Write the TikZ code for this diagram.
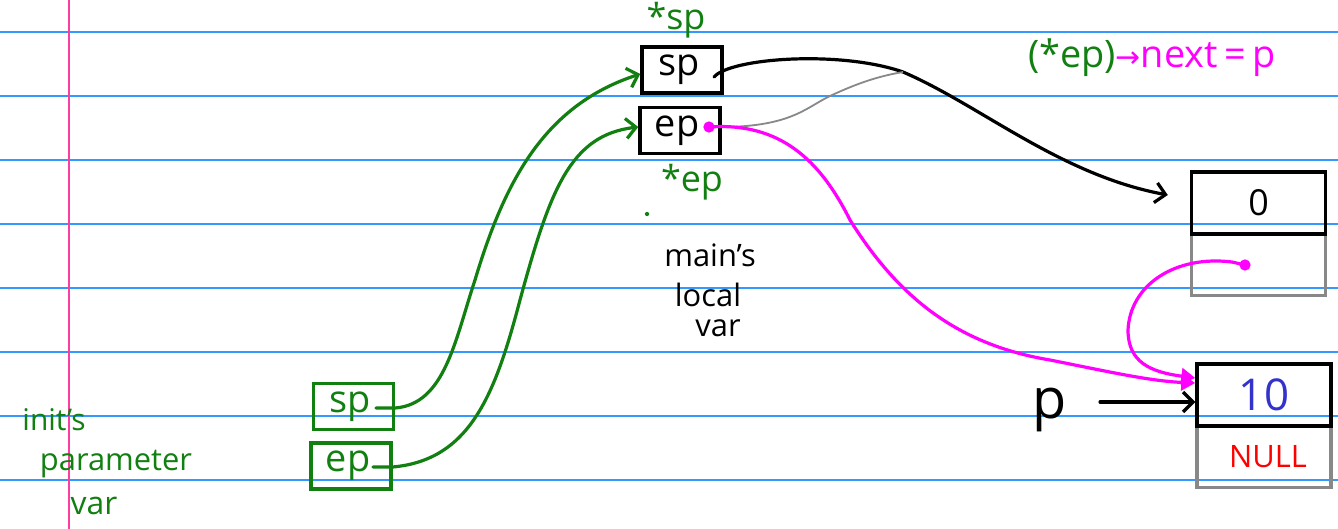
\documentclass[tikz,border=0pt]{standalone}
\usepackage{fontspec}
\setmainfont{Open Sans}
\newfontfamily\symfont{DejaVu Sans}
\usetikzlibrary{arrows.meta,calc}
\definecolor{ruleblue}{RGB}{51,153,255}
\definecolor{marginpink}{RGB}{255,60,160}
\definecolor{ink}{RGB}{17,128,17}
\definecolor{mag}{RGB}{255,0,255}
\definecolor{numblue}{RGB}{51,51,204}
\definecolor{nullred}{RGB}{255,0,0}
\definecolor{boxgray}{RGB}{136,136,136}
\tikzset{
  rule/.style={ruleblue,line width=1.5bp},
  mainbox/.style={draw=black,line width=3.5bp,minimum width=80bp,minimum height=46bp,inner sep=0pt,font=\fontsize{38}{38}\selectfont},
  parambox/.style={draw=ink,line width=3.5bp,minimum width=80bp,minimum height=46bp,inner sep=0pt,text=ink,font=\fontsize{38}{38}\selectfont},
  topcell/.style={draw=black,line width=3.5bp,minimum width=134bp,minimum height=62bp,inner sep=0pt},
  lowcell/.style={draw=boxgray,line width=3.5bp,minimum width=134bp,minimum height=62bp,inner sep=0pt},
  greenlbl/.style={text=ink,inner sep=0pt},
  blacklbl/.style={text=black,inner sep=0pt},
  gwire/.style={ink,line width=3.2bp,line cap=round,-{Straight Barb[length=10bp,width=20bp,line width=3.2bp]}},
  kwire/.style={black,line width=3.2bp,line cap=round,-{Straight Barb[length=10bp,width=20bp,line width=3.2bp]}},
  mwire/.style={mag,line width=3.2bp,line cap=round,-{Triangle[length=14bp,width=16bp]}},
  thinwire/.style={boxgray,line width=1.8bp},
}
\begin{document}
\begin{tikzpicture}[x=1bp,y=-1bp]
\useasboundingbox (0,0) rectangle (1338,529);
\fill[white] (0,0) rectangle (1338,529);
% ruled paper
\foreach \yy in {32,96,160,224,288,352,416,480}{
  \draw[rule] (0,\yy) -- (1338,\yy);
}
\draw[marginpink,line width=1.5bp] (69,0) -- (69,529);

% main's local variables
\node[mainbox] (msp) at (682,70) {sp\hspace*{6bp}};
\node[mainbox] (mep) at (680,130.5) {ep\hspace*{6bp}};
\node[greenlbl,font=\fontsize{36}{36}\selectfont] (stsp) at (676,20) {*sp};
\node[greenlbl,font=\fontsize{36}{36}\selectfont] (step) at (692,182) {*ep};
\node[fill=ink,circle,inner sep=1.5bp] (dotg) at (647,214) {};
\node[blacklbl,font=\fontsize{31}{31}\selectfont] (mainlbl) at (710,255) {main's};
\node[blacklbl,font=\fontsize{31}{31}\selectfont] (locallbl) at (708,295) {local};
\node[blacklbl,font=\fontsize{31}{31}\selectfont] (varlbl) at (718,328) {var};

% init's parameters
\node[parambox] (psp) at (353.5,406.5) {sp\hspace*{6bp}};
\node[parambox] (pep) at (351,466) {ep\hspace*{6bp}};
\node[greenlbl,font=\fontsize{30}{30}\selectfont] (initlbl) at (54,420) {init's};
\node[greenlbl,font=\fontsize{31}{31}\selectfont] (paramlbl) at (116,464) {parameter};
\node[greenlbl,font=\fontsize{32}{32}\selectfont] (pvarlbl) at (94,506) {var};

% node 0
\node[lowcell] (zlow) at (1258.5,264.5) {};
\node[topcell,font=\fontsize{36}{36}\selectfont] (ztop) at (1258.5,203) {0};
% node 10
\node[lowcell,text=nullred,font=\fontsize{31}{31}\selectfont] (tlow) at (1264,456.5) {\hspace*{8bp}NULL};
\node[topcell,text=numblue,font=\fontsize{44}{44}\selectfont] (ttop) at (1264,395) {10};

% p
\node[blacklbl,font=\fontsize{56}{56}\selectfont] (plbl) at (1050,410) {p};
\coordinate (parrow) at (1100,402);
\draw[kwire] (parrow) -- (ttop.west |- parrow);

% statement
\node[inner sep=0pt,anchor=west,font=\fontsize{38}{38}\selectfont] (stmt) at (1028,58) {\textcolor{ink}{(*ep)}\textcolor{mag}{{\symfont\fontsize{30}{30}\selectfont→}next\,=\,p}};

% green wires
\coordinate (psptail) at (376,408);
\coordinate (peptail) at (373,467);
\draw[gwire] (psptail) -- (psp.east |- psptail) .. controls (445,404) and (455,340) .. (475,280) .. controls (505,180) and (545,105) .. (msp.west |- 0,74);
\draw[gwire] (peptail) -- (pep.east |- peptail) .. controls (470,460) and (495,395) .. (520,300) .. controls (550,190) and (570,135) .. (mep.west |- 0,127);

% black wire from sp
\coordinate (spin) at (714,77);
\coordinate (bend) at (903,72);
\draw[kwire] (spin) .. controls (730,58) and (840,50) .. (bend) .. controls (980,105) and (1060,175) .. ($(ztop.west)+(-22,-8)$);
% gray thin line
\coordinate (epin) at (714,127);
\draw[thinwire] (epin) .. controls (790,128) and (805,108) .. (830,96) .. controls (860,82) and (880,76) .. (bend);

% magenta wires
\node[fill=mag,circle,inner sep=4bp] (epdot) at (709,127) {};
\draw[mwire] (epdot.center) .. controls (780,122) and (820,160) .. (850,220) .. controls (900,300) and (960,345) .. (1050,360) .. controls (1110,372) and (1150,381) .. (ttop.west |- 0,383);
\node[fill=mag,circle,inner sep=4bp] (nextdot) at (1245,265) {};
\draw[mwire] (nextdot.center) -- (1232,262) .. controls (1175,255) and (1130,285) .. (1128,330) .. controls (1128,362) and (1150,372) .. (ttop.west |- 0,378);
\end{tikzpicture}
\end{document}
